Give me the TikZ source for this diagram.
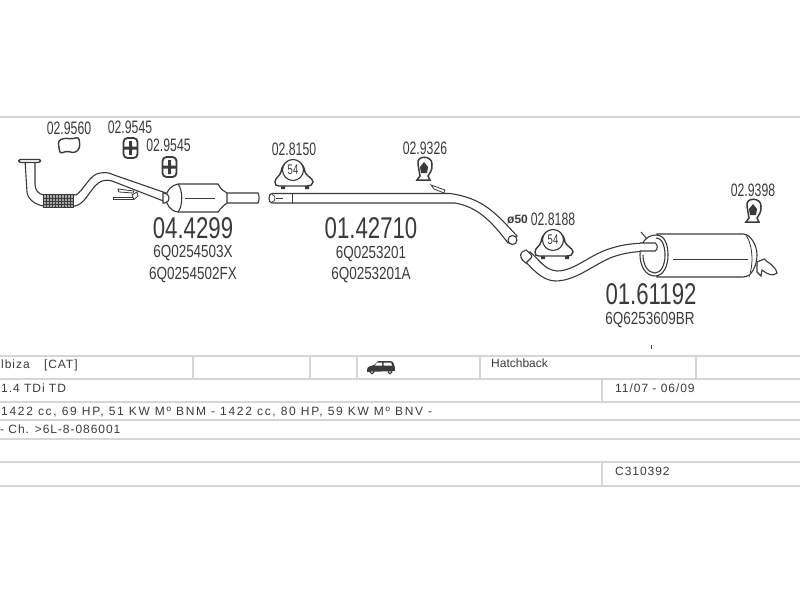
\documentclass[tikz,border=0pt]{standalone}
\usepackage{fontspec}
\setmainfont{Liberation Sans}
\newfontfamily\narrowfont[FakeStretch=0.74]{Liberation Sans}
\newfontfamily\oemfont[FakeStretch=0.77]{Liberation Sans}
\newfontfamily\fitfont[FakeStretch=0.68]{Liberation Sans}
\usetikzlibrary{positioning}
\definecolor{ink}{HTML}{3A3A3A}
\definecolor{rule}{HTML}{D6D6D6}
\tikzstyle{partno} = [text=ink, inner sep=0pt, font=\narrowfont\fontsize{30}{30}\selectfont]
\tikzstyle{oemno} = [text=ink, inner sep=0pt, font=\oemfont\fontsize{17.5}{18}\selectfont]
\tikzstyle{fitno} = [text=ink, inner sep=0pt, font=\fitfont\fontsize{18}{18}\selectfont]
\tikzstyle{cell} = [anchor=west, text=ink, inner sep=0pt, font=\fontsize{12}{12}\addfontfeature{LetterSpace=8}]
\tikzstyle{hline} = [draw=rule, line width=1.8pt]
\tikzstyle{pipe} = [draw=ink, line width=1.1pt, fill=white]
\tikzstyle{thin} = [draw=ink, line width=0.7pt]
% band clamp, centred on its ring
\newcommand{\bandclamp}[3]{
  \begin{scope}[shift={(#1)}]
    \fill[ink] (-12,14) rectangle (-8,19) (12,14) rectangle (16,19);
    \draw[pipe, line width=1.4pt] (-18,12) .. controls (-18,8) and (-13,6) .. (-12,2)
      .. controls (-10,-14) and (10,-14) .. (12,2) .. controls (13,6) and (20,8) .. (20,12)
      .. controls (20,15) and (17,16) .. (14,16) -- (-14,16) .. controls (-17,16) and (-18,15) .. cycle;
    \draw[pipe] (0,0) circle (10.5);
    \node[text=ink, inner sep=0pt, font=\fitfont\fontsize{14}{14}\selectfont] (#2) at (0,0) {#3};
  \end{scope}
}
% rubber hanger with dark middle
\newcommand{\hanger}[1]{
  \begin{scope}[shift={(#1)}]
    \draw[draw=ink, line width=1.5pt, fill=white] (-4,8) -- (-6,-4) .. controls (-8,-13) and (8,-13) .. (8,-4)
      .. controls (9,2) and (5,6) .. (4,8) -- (6,12) -- (-7,12) -- cycle;
    \fill[ink] (0,-6) -- (4,-1) -- (3,5) -- (-3,5) -- (-4,-1) -- cycle;
  \end{scope}
}
% rubber ring with two holes
\newcommand{\ringmount}[1]{
  \begin{scope}[shift={(#1)}]
    \draw[draw=ink, line width=1.8pt, fill=white, rounded corners=4pt] (-7,-10) rectangle (7,10);
    \fill[ink] (-1.5,-7) rectangle (1.5,7) (-7,-1.5) rectangle (7,1.5);
    \fill[white] (-4.5,-7) rectangle (-2,-3) (2,-7) rectangle (4.5,-3) (-4.5,3) rectangle (-2,7) (2,3) rectangle (4.5,7);
  \end{scope}
}
\begin{document}
\begin{tikzpicture}[x=1pt, y=-1pt]
    \useasboundingbox (0,0) rectangle (800,600);
    % table rules
    \foreach \ypos in {117,356,379,402,420,439,462,486}
        \draw[hline] (0,\ypos) -- (800,\ypos);
    \foreach \xpos in {193,310,357,480,696}
        \draw[hline] (\xpos,356) -- (\xpos,379);
    \draw[hline] (602,379) -- (602,402);
    \draw[hline] (602,462) -- (602,486);
    % table texts
    \node[cell] (model) at (1,365.5) {lbiza\hspace{10pt} [CAT]};
    \node[cell] (engine) at (1,388) {1.4 TDi TD};
    \node[cell, font=\fontsize{12}{12}\addfontfeature{LetterSpace=14.2}] (power) at (1,412) {1422 cc, 69 HP, 51 KW Mº BNM - 1422 cc, 80 HP, 59 KW Mº BNV -};
    \node[cell] (chassis) at (0,429) {- Ch. >6L-8-086001};
    \node[cell, font=\fontsize{12}{12}\selectfont] (body) at (491,363.5) {Hatchback};
    \node[cell] (years) at (615,388) {11/07 - 06/09};
    \node[cell] (code) at (615,471) {C310392};
    % car icon
    \fill[ink] (367,370) .. controls (367,366) and (371,366) .. (374,365) -- (378,361) -- (391,361)
        .. controls (394,362) and (395,366) .. (395,371) -- (367,372) -- cycle;
    \fill[white] (377,362.5) -- (382,362.5) -- (382,365.5) -- (375,365.5) -- cycle
        (383.5,362.5) -- (391,362.5) -- (392,365.5) -- (383.5,365.5) -- cycle;
    \draw[ink, fill=white, line width=1pt] (372,372) circle (1.8) (390,372) circle (1.8);
    % front pipe
    \draw[pipe] (25,160) -- (27,192) .. controls (28,200) and (36,205) .. (44,206)
        -- (44,195) .. controls (38,194) and (35,190) .. (35,184) -- (35,160) -- cycle;
    \draw[pipe, line width=1.4pt, rounded corners=1.5pt] (18.5,159.5) -- (41,159.5) -- (40,162.5) -- (19,162.5) -- cycle;
    \draw[pipe] (73,194.5) -- (76,195) .. controls (84,190) and (90,174) .. (100,173) .. controls (106,172) and (110,173) .. (114,175)
        -- (166,193) -- (166,202) -- (112,181) .. controls (104,179) and (100,181) .. (95,186) .. controls (88,194) and (84,204) .. (75,206) -- (73,206) -- cycle;
    \draw[draw=ink, line width=0.9pt, fill=ink!45] (43,194) rectangle (73,207);
    \foreach \xpos in {46,49,...,71}
        \draw[ink, line width=0.8pt] (\xpos,194) -- (\xpos,207);
    \draw[ink, line width=0.7pt] (43,198) -- (73,198) (43,201) -- (73,201) (43,204) -- (73,204);
    % heat shield bits
    \draw[pipe, line width=0.8pt] (118,189) -- (134,191) -- (133,193) -- (119,192) -- cycle;
    \draw[pipe, line width=0.8pt] (113,197) -- (133,197) -- (133,199.5) -- (113,199.5) -- cycle;
    \draw[pipe, line width=0.8pt] (132,195) -- (137,192) -- (138,196) -- (134,199.5) -- cycle;
    % catalyst
    \draw[pipe] (224,193) -- (258,193) .. controls (259.5,196) and (259.5,200) .. (258,203) -- (224,203) -- cycle;
    \draw[pipe] (178,184) -- (218,184) .. controls (222,190) and (222,207) .. (218,212) -- (178,212)
        .. controls (170,211) and (166,204) .. (166,198) .. controls (166,190) and (172,185) .. (178,184) -- cycle;
    \draw[pipe] (218,184) .. controls (221,190) and (224,191) .. (227,193) -- (227,203) .. controls (224,205) and (221,208) .. (218,212);
    \draw[pipe] (178,184) .. controls (183,190) and (183,206) .. (178,212);
    \draw[pipe] (164,193) .. controls (170,193) and (171,202) .. (165,203) -- (163,203) -- (163,193) -- cycle;
    \draw[thin] (185,198.5) -- (215,198.5);
    % middle pipe
    \draw[pipe] (272,193.5) -- (450,193.5) .. controls (482,198) and (495,212) .. (517,236)
        -- (508,243) .. controls (492,222) and (478,207) .. (455,203) -- (272,203) .. controls (268,203) and (268,193.5) .. (272,193.5) -- cycle;
    \draw[thin, line width=0.8pt] (292,193.5) -- (292,203);
    \draw[pipe, line width=0.7pt] (272,194.5) .. controls (276,194.5) and (276,202) .. (272,202);
    \draw[ink, line width=1.1pt] (276,198.5) -- (283,198.5);
    \draw[pipe] (512.5,240) circle (4.5);
    \draw[pipe, line width=0.8pt] (431,185) -- (445,190) -- (444,193) -- (434,189) -- cycle;
    % rear pipe
    \draw[pipe] (530,252) .. controls (538,258) and (544,270) .. (557,271) .. controls (575,271) and (590,254) .. (612,248)
        .. controls (628,243) and (642,243) .. (656,243) .. controls (659,244) and (659,250) .. (656,251)
        .. controls (640,251) and (625,252) .. (610,258) .. controls (590,267) and (575,281) .. (555,281) .. controls (540,280) and (533,268) .. (522,259) -- cycle;
    \draw[pipe] (526,250) .. controls (531,254) and (533,256) .. (531,258) -- (526,263)
        .. controls (521,260) and (519,255) .. (522,252) -- cycle;
    % silencer
    \draw[pipe] (757,262) -- (764,259) .. controls (768,263) and (775,265) .. (777,273) .. controls (773,277) and (767,274) .. (762,270) -- (761,276) -- (757,272) -- cycle;
    \draw[pipe] (657,234) -- (743,234) .. controls (751,234) and (757,246) .. (757,255) .. controls (757,265) and (752,277) .. (743,277) -- (657,277) -- (657,234) -- cycle;
    \draw[pipe, line width=0.8pt] (745,234) .. controls (751,240) and (755,260) .. (749,277);
    \draw[pipe] (656,235) .. controls (666,235) and (668,247) .. (668,255) .. controls (668,265) and (664,276) .. (655,276) .. controls (645,276) and (640,265) .. (640,255) .. controls (640,245) and (645,235) .. (656,235) -- cycle;
    \draw[pipe, fill=none] (656,238) .. controls (663,238) and (665,248) .. (665,255) .. controls (665,265) and (661,273) .. (655,273) .. controls (648,273) and (643,265) .. (643,255);
    \draw[pipe] (640,243) -- (655,243) .. controls (658,244) and (658,250) .. (655,251) -- (640,251);
    \draw[thin, line width=0.8pt] (673,259.5) -- (748,259.5);
    \draw[ink, line width=1pt] (641,232) -- (647,239);
    \draw[ink, line width=0.6pt] (651,345) -- (651,349);
    % clamps and mounts
    \draw[draw=ink, line width=1.4pt, fill=white, rounded corners=3pt] (58,141) -- (64,138) -- (72,139) -- (79,137) -- (80,148) -- (75,153) -- (66,151) -- (60,154) -- cycle;
    \ringmount{130.5,148}
    \ringmount{169.5,167}
    \bandclamp{293,170}{ringa}{54}
    \bandclamp{553,240}{ringb}{54}
    \hanger{424,168}
    \hanger{753,210}
    % part numbers
    \node[fitno] (fita) at (69,128) {02.9560};
    \node[fitno] (fitb) at (130,127) {02.9545};
    \node[fitno] (fitc) at (168.5,145) {02.9545};
    \node[fitno] (fitd) at (294,149) {02.8150};
    \node[fitno] (fite) at (425,148) {02.9326};
    \node[fitno] (fitf) at (553,219) {02.8188};
    \node[fitno] (fitg) at (753,190) {02.9398};
    \node[anchor=west, text=ink, inner sep=0pt, font=\bfseries\fontsize{12}{12}\selectfont] (dia) at (507,219) {ø50};
    \node[partno] (cat) at (193,228.5) {04.4299};
    \node[oemno] (cata) at (193,253.5) {6Q0254503X};
    \node[oemno] (catb) at (193,275) {6Q0254502FX};
    \node[partno] (mid) at (371,228.5) {01.42710};
    \node[oemno] (mida) at (371,254) {6Q0253201};
    \node[oemno] (midb) at (371,275.5) {6Q0253201A};
    \node[partno] (rear) at (651,294.5) {01.61192};
    \node[oemno] (reara) at (650,320) {6Q6253609BR};
\end{tikzpicture}
\end{document}
